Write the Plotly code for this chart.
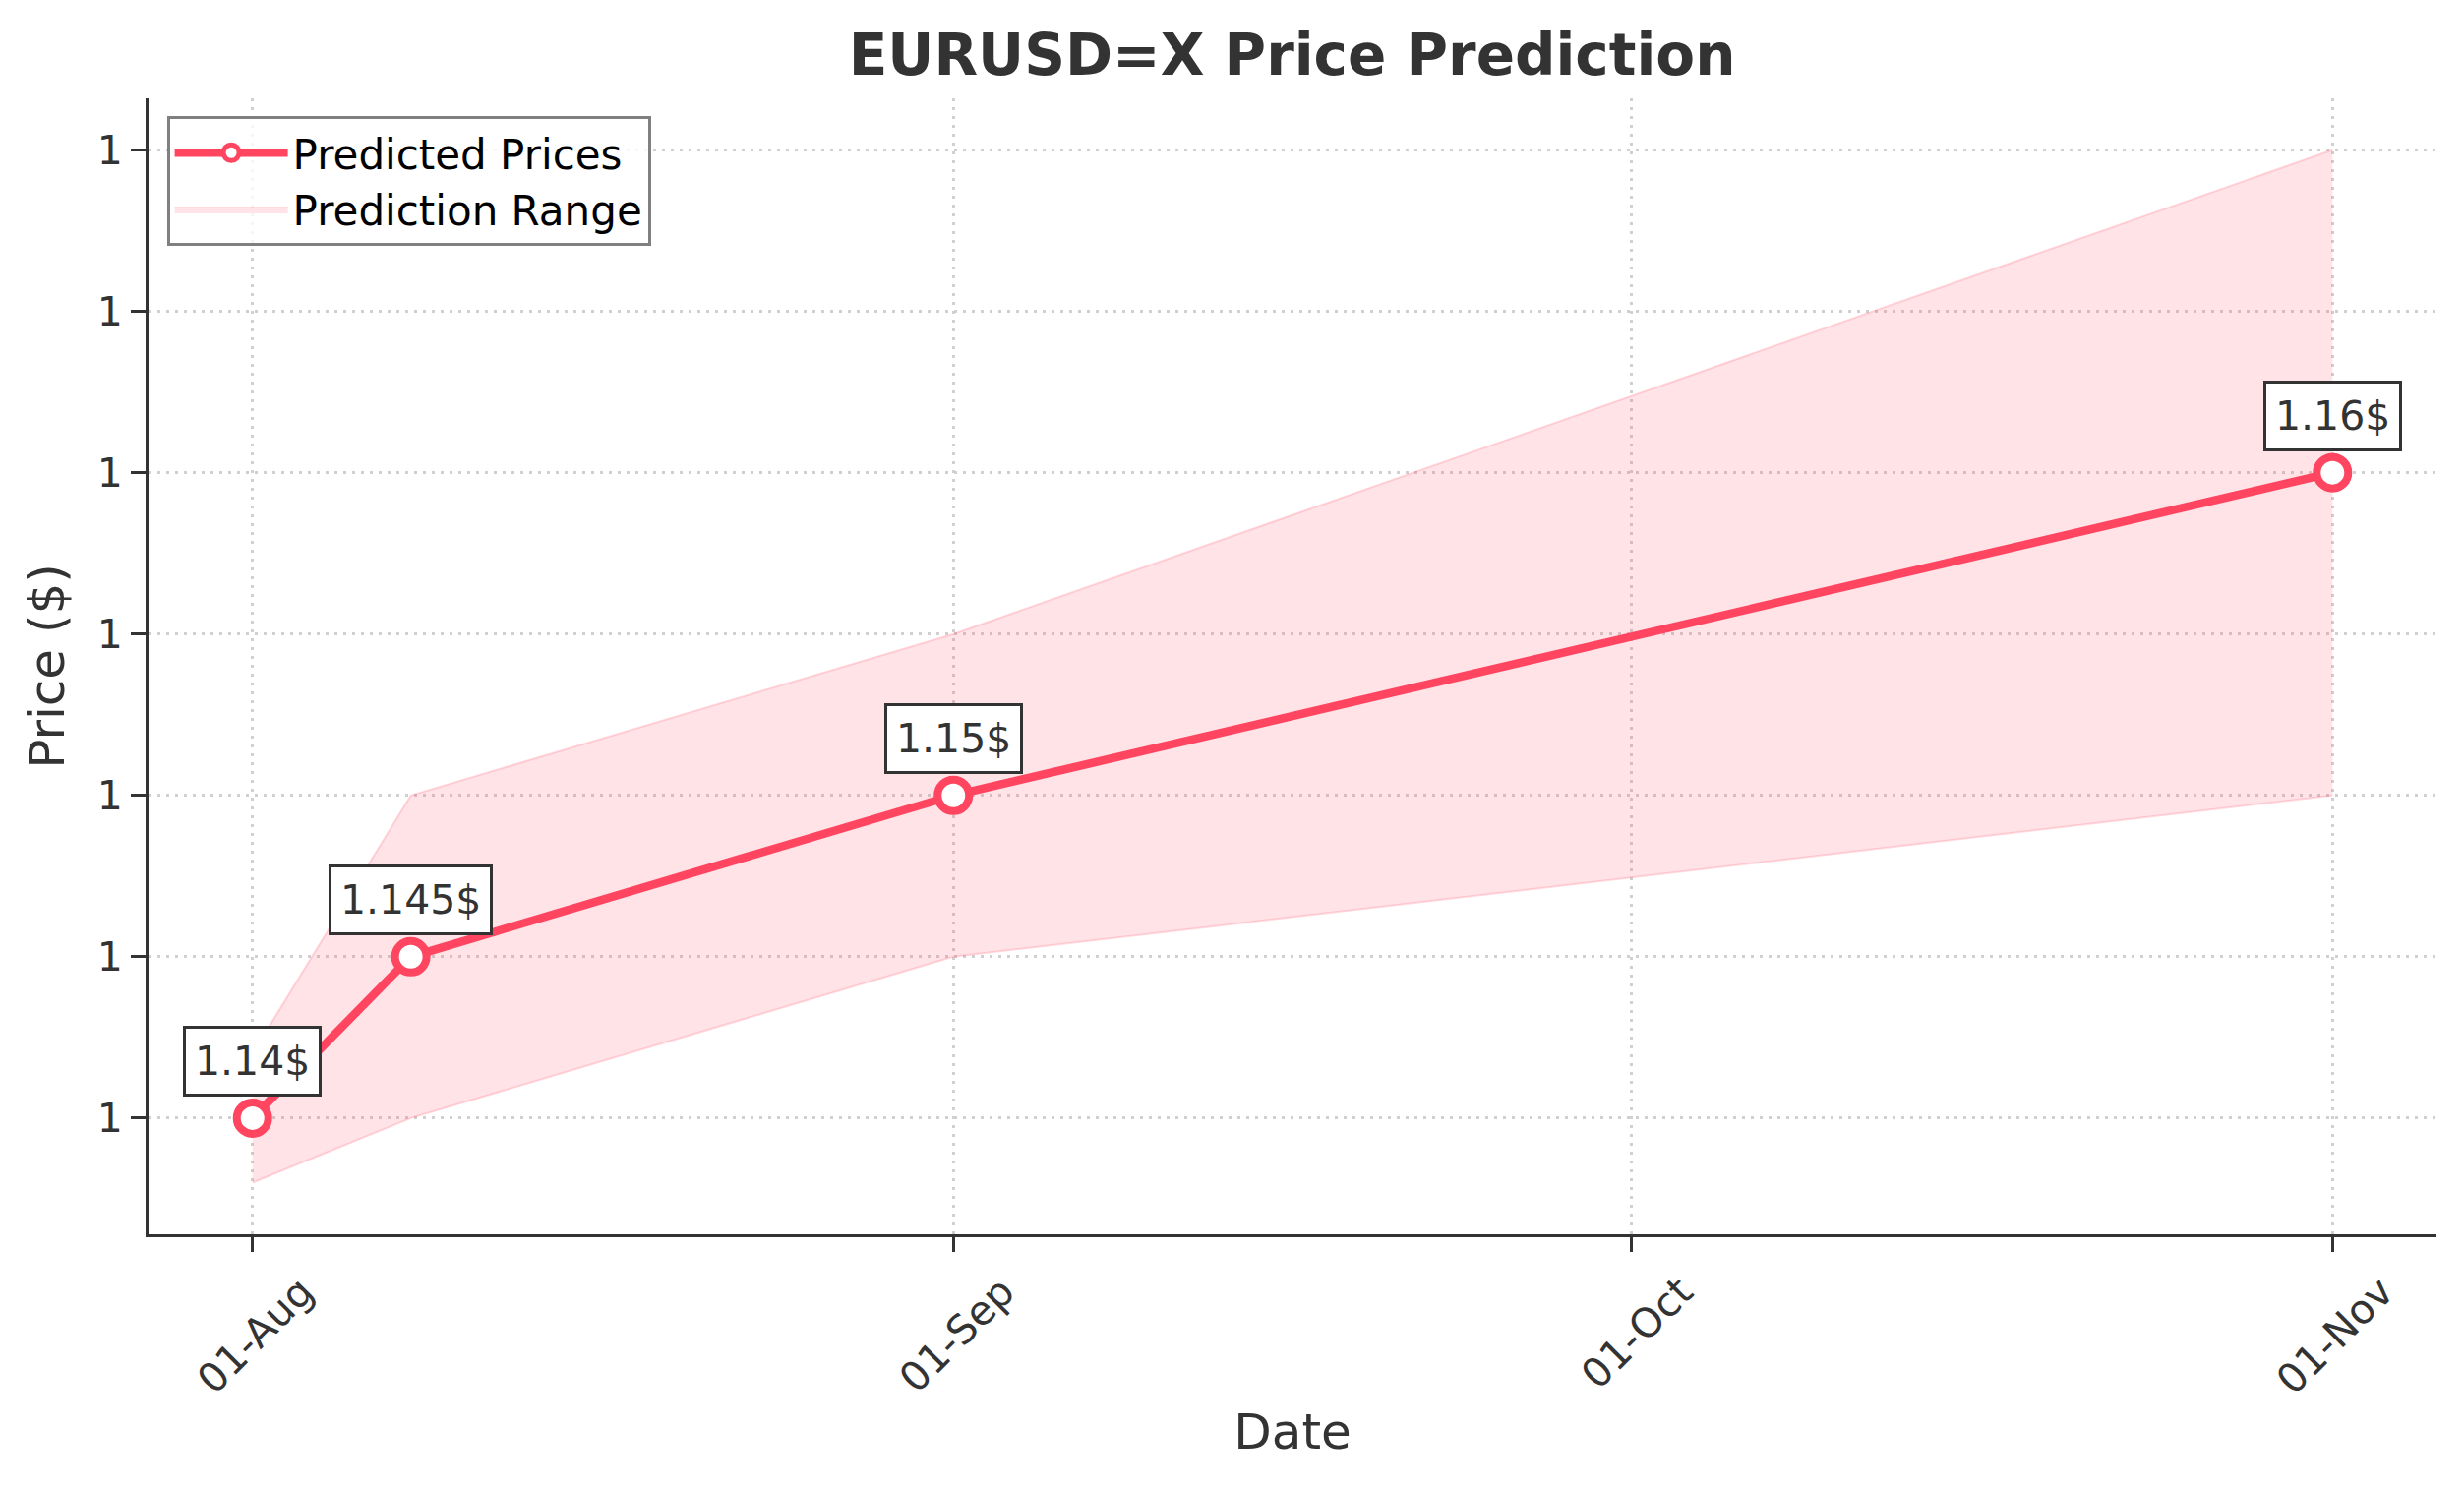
"""
EURUSD=X price prediction: predicted closing prices with a shaded
prediction range, labelled points, matplotlib-like styling in Plotly.
"""

import plotly.graph_objects as go

# --- data -----------------------------------------------------------------
dates = ["2025-08-01", "2025-08-08", "2025-09-01", "2025-11-01"]
predicted = [1.14, 1.145, 1.15, 1.16]
lower_bound = [1.138, 1.14, 1.145, 1.15]
upper_bound = [1.142, 1.15, 1.155, 1.17]
point_labels = ["1.14$", "1.145$", "1.15$", "1.16$"]

x_tick_vals = ["2025-08-01", "2025-09-01", "2025-10-01", "2025-11-01"]
x_tick_text = ["01-Aug", "01-Sep", "01-Oct", "01-Nov"]
y_tick_vals = [1.14, 1.145, 1.15, 1.155, 1.16, 1.165, 1.17]
y_tick_text = ["1", "1", "1", "1", "1", "1", "1"]

# --- style ----------------------------------------------------------------
FONT = "DejaVu Sans"
DARK = "#333333"
RED = "#ff4560"
BAND = "rgba(255, 69, 96, 0.15)"
BAND_EDGE = "rgba(255, 69, 96, 0.2)"
GRID = "#d0d0d0"

fig = go.Figure()

# range band: lower edge first, upper edge fills down to it
fig.add_trace(go.Scatter(
    x=dates, y=lower_bound,
    mode="lines",
    line=dict(color=BAND_EDGE, width=2),
    showlegend=False,
    hoverinfo="skip",
))
fig.add_trace(go.Scatter(
    x=dates, y=upper_bound,
    mode="lines",
    line=dict(color=BAND_EDGE, width=2),
    fill="tonexty",
    fillcolor=BAND,
    name="Prediction Range",
    legendrank=2,
))
fig.add_trace(go.Scatter(
    x=dates, y=predicted,
    mode="lines+markers",
    line=dict(color=RED, width=8.5),
    marker=dict(size=32, color="white", line=dict(color=RED, width=8)),
    name="Predicted Prices",
    legendrank=1,
))

for d, v, lbl in zip(dates, predicted, point_labels):
    fig.add_annotation(
        x=d, y=v, text=lbl,
        showarrow=False,
        yanchor="bottom",
        yshift=22,
        font=dict(family=FONT, size=41, color=DARK),
        bgcolor="white",
        bordercolor=DARK,
        borderwidth=3,
        borderpad=9,
    )

# matplotlib-style 5% margins around the data
x_range = ["2025-07-27 09:36", "2025-11-05 14:24"]
y_span = max(upper_bound) - min(lower_bound)
y_range = [min(lower_bound) - 0.05 * y_span, max(upper_bound) + 0.05 * y_span]

axis_common = dict(
    showline=True, linecolor=DARK, linewidth=3,
    ticks="outside", ticklen=15, tickwidth=3, tickcolor=DARK,
    tickfont=dict(family=FONT, size=41, color=DARK),
    showgrid=True, gridcolor=GRID, gridwidth=2.5, griddash="3px,6px",
    zeroline=False, mirror=False,
)

fig.update_xaxes(
    **axis_common,
    range=x_range,
    tickvals=x_tick_vals, ticktext=x_tick_text,
    tickangle=-45,
    ticklabelshift=50,
    title=dict(text="Date", font=dict(family=FONT, size=50, color=DARK), standoff=12),
)
fig.update_yaxes(
    **axis_common,
    range=y_range,
    tickvals=y_tick_vals, ticktext=y_tick_text,
    title=dict(text="Price ($)", font=dict(family=FONT, size=50, color=DARK), standoff=18),
)

fig.update_layout(
    width=2505, height=1513,
    margin=dict(l=151, r=28, t=100, b=258, autoexpand=False),
    paper_bgcolor="white",
    plot_bgcolor="white",
    font=dict(family=FONT, color=DARK),
    title=dict(
        text="EURUSD=X Price Prediction",
        font=dict(family=FONT, size=58, color=DARK, weight="bold"),
        x=0.5244, xanchor="center",
        y=0.963, yanchor="middle",
    ),
    legend=dict(
        x=0.008, y=0.984, xanchor="left", yanchor="top",
        traceorder="normal",
        font=dict(family=FONT, size=42, color="black"),
        bgcolor="rgba(255,255,255,0.8)",
        bordercolor="#808080", borderwidth=3,
        itemwidth=115,
    ),
    showlegend=True,
)

fig.write_html(
    "out.html",
    config={"displayModeBar": False},
    post_script="document.body.style.margin='0';",
)
